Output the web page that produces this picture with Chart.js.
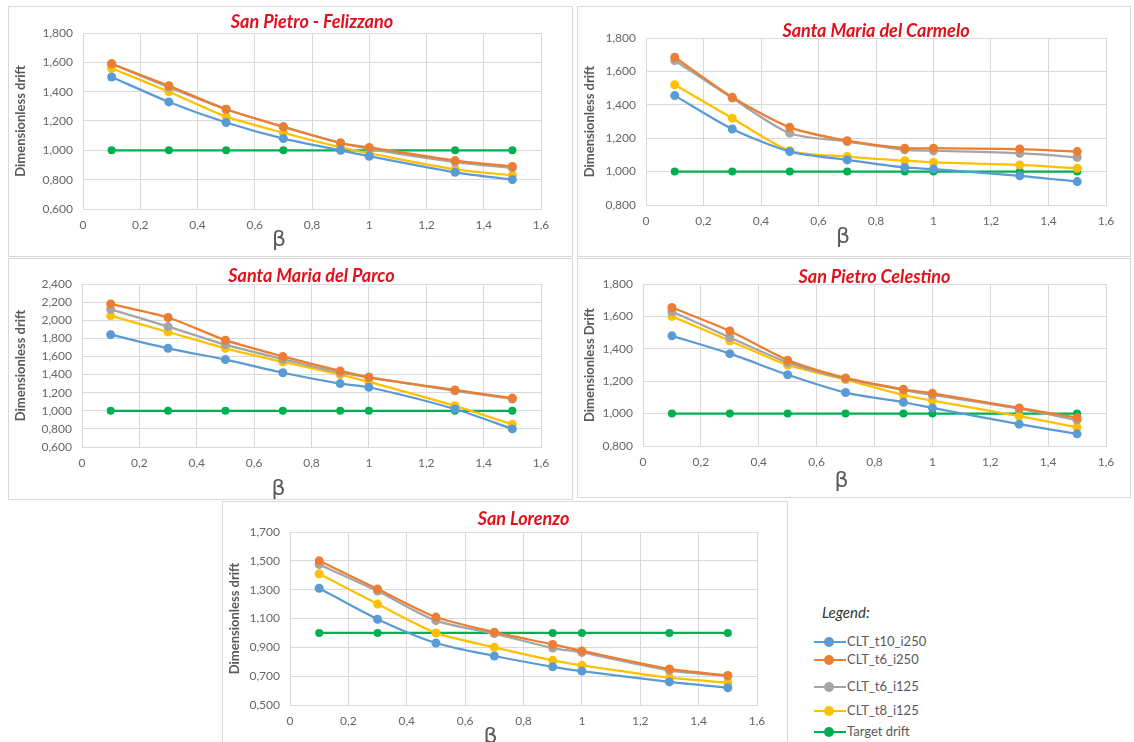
<!DOCTYPE html>
<html>
<head>
<meta charset="utf-8">
<script src="https://cdn.jsdelivr.net/npm/chart.js@4.4.1/dist/chart.umd.min.js"></script>
<style>
  body { margin: 0; background: #fff; width: 1134px; height: 742px; position: relative; overflow: hidden; font-family: Lato, "Open Sans", sans-serif; }
  .panel { position: absolute; border: 1px solid #d9d9d9; box-sizing: border-box; background: #fff; }
  .panel canvas { display: block; }
  #legend { position: absolute; left: 812px; top: 600px; color: #595959; font-size: 13px; }
  #legend .head { position: absolute; left: 10px; top: 3px; font-size: 15px; font-style: italic; font-weight: normal; color: #333; white-space: nowrap; }
  #legend .item { position: absolute; left: 0; height: 14px; white-space: nowrap; }
  #legend .item i { position: absolute; left: 2px; top: 6px; width: 32px; height: 2px; }
  #legend .item b { position: absolute; left: 12px; top: 2px; width: 10px; height: 10px; border-radius: 50%; }
  #legend .item span { position: absolute; left: 35px; top: -2px; }
</style>
</head>
<body>
<div class="panel" id="p1"><canvas id="c1"></canvas></div>
<div class="panel" id="p2"><canvas id="c2"></canvas></div>
<div class="panel" id="p3"><canvas id="c3"></canvas></div>
<div class="panel" id="p4"><canvas id="c4"></canvas></div>
<div class="panel" id="p5"><canvas id="c5"></canvas></div>
<div id="legend"><div class="head">Legend:</div></div>
<script>
// beta values (x axis)
const beta = [0.1, 0.3, 0.5, 0.7, 0.9, 1.0, 1.3, 1.5];
const seriesNames = ['CLT_t10_i250', 'CLT_t6_i250', 'CLT_t6_i125', 'CLT_t8_i125', 'Target drift'];
const target = [1, 1, 1, 1, 1, 1, 1, 1];

// San Pietro - Felizzano
const felizzanoT10i250 = [1.50, 1.33, 1.19, 1.08, 1.00, 0.96, 0.85, 0.80];
const felizzanoT6i250  = [1.59, 1.44, 1.28, 1.16, 1.05, 1.02, 0.93, 0.89];
const felizzanoT6i125  = [1.59, 1.43, 1.28, 1.16, 1.05, 1.01, 0.92, 0.88];
const felizzanoT8i125  = [1.56, 1.40, 1.23, 1.12, 1.02, 0.98, 0.87, 0.83];

// Santa Maria del Carmelo
const carmeloT10i250 = [1.455, 1.255, 1.12, 1.07, 1.025, 1.015, 0.975, 0.94];
const carmeloT6i250  = [1.685, 1.445, 1.265, 1.185, 1.14, 1.14, 1.135, 1.12];
const carmeloT6i125  = [1.665, 1.44, 1.23, 1.18, 1.13, 1.125, 1.11, 1.085];
const carmeloT8i125  = [1.52, 1.32, 1.125, 1.09, 1.065, 1.055, 1.04, 1.02];

// Santa Maria del Parco
const parcoT10i250 = [1.84, 1.69, 1.565, 1.42, 1.30, 1.26, 1.02, 0.80];
const parcoT6i250  = [2.18, 2.03, 1.78, 1.60, 1.44, 1.37, 1.23, 1.14];
const parcoT6i125  = [2.12, 1.93, 1.73, 1.57, 1.42, 1.37, 1.22, 1.13];
const parcoT8i125  = [2.05, 1.87, 1.69, 1.54, 1.40, 1.32, 1.055, 0.85];

// San Pietro Celestino
const celestinoT10i250 = [1.48, 1.37, 1.24, 1.13, 1.07, 1.035, 0.935, 0.875];
const celestinoT6i250  = [1.655, 1.51, 1.33, 1.22, 1.15, 1.125, 1.035, 0.975];
const celestinoT6i125  = [1.63, 1.47, 1.315, 1.215, 1.145, 1.115, 1.03, 0.96];
const celestinoT8i125  = [1.60, 1.45, 1.30, 1.21, 1.115, 1.08, 0.985, 0.915];

// San Lorenzo
const lorenzoT10i250 = [1.31, 1.095, 0.93, 0.84, 0.765, 0.735, 0.66, 0.62];
const lorenzoT6i250  = [1.50, 1.305, 1.11, 1.005, 0.92, 0.875, 0.75, 0.705];
const lorenzoT6i125  = [1.475, 1.29, 1.085, 0.995, 0.895, 0.865, 0.74, 0.70];
const lorenzoT8i125  = [1.41, 1.20, 1.00, 0.90, 0.81, 0.775, 0.69, 0.655];

const colors = ['#5B9BD5', '#ED7D31', '#A5A5A5', '#FFC000', '#00B050'];

// layout in page pixels: box = panel border, plot = chart area, titleY / betaY = text centres
const panels = [
  { id: 'p1', title: 'San Pietro - Felizzano', yTitle: 'Dimensionless drift', yMin: 0.6, yMax: 1.8,
    series: [felizzanoT10i250, felizzanoT6i250, felizzanoT6i125, felizzanoT8i125, target],
    box: [8, 6, 573, 257], plot: [83, 33, 541, 209], titleY: 22, betaY: 240 },
  { id: 'p2', title: 'Santa Maria del Carmelo', yTitle: 'Dimensionless drift', yMin: 0.8, yMax: 1.8,
    series: [carmeloT10i250, carmeloT6i250, carmeloT6i125, carmeloT8i125, target],
    box: [577, 6, 1131, 257], plot: [646, 38, 1106, 205], titleY: 31, betaY: 237 },
  { id: 'p3', title: 'Santa Maria del Parco', yTitle: 'Dimensionless drift', yMin: 0.6, yMax: 2.4,
    series: [parcoT10i250, parcoT6i250, parcoT6i125, parcoT8i125, target],
    box: [8, 258, 573, 500], plot: [82, 284, 541, 447], titleY: 276, betaY: 489 },
  { id: 'p4', title: 'San Pietro Celestino', yTitle: 'Dimensionless Drift', yMin: 0.8, yMax: 1.8,
    series: [celestinoT10i250, celestinoT6i250, celestinoT6i125, celestinoT8i125, target],
    box: [577, 258, 1131, 498], plot: [643, 284, 1106, 446], titleY: 277, betaY: 481 },
  { id: 'p5', title: 'San Lorenzo', yTitle: 'Dimensionless drift', yMin: 0.5, yMax: 1.7,
    series: [lorenzoT10i250, lorenzoT6i250, lorenzoT6i125, lorenzoT8i125, target],
    box: [222, 501, 788, 745], plot: [290, 532, 757, 705], titleY: 519, betaY: 737 }
];

const titleSize = 18;
const betaSize = 22;
const fmtY = v => v.toFixed(3).replace('.', ',');
const fmtX = v => String(Math.round(v * 10) / 10).replace('.', ',');

function buildPanel(p) {
  const el = document.getElementById(p.id);
  const [bl, bt, br, bb] = p.box;
  el.style.left = bl + 'px';
  el.style.top = bt + 'px';
  el.style.width = (br - bl) + 'px';
  el.style.height = (bb - bt) + 'px';
  const cl = bl + 1, ct = bt + 1, cw = br - bl - 2, ch = bb - bt - 2;
  const canvas = el.querySelector('canvas');
  canvas.width = cw;
  canvas.height = ch;

  const [pl, pt, pr, pb] = p.plot;
  const tlh = titleSize * 1.2;
  const tPadTop = p.titleY - ct - tlh / 2;
  const tPadBottom = pt - ct - tPadTop - tlh;
  const blh = betaSize * 1.2;
  const betaPad = (ct + ch) - p.betaY - blh / 2;

  new Chart(canvas, {
    type: 'line',
    data: {
      datasets: p.series.map((vals, i) => ({
        label: seriesNames[i],
        data: beta.map((b, k) => ({ x: b, y: vals[k] })),
        borderColor: colors[i],
        backgroundColor: colors[i],
        borderWidth: 2.25,
        pointRadius: i === 4 ? 4 : 4.5,
        pointBorderWidth: 0,
        tension: i === 4 ? 0 : 0.25
      }))
    },
    options: {
      responsive: false,
      animation: false,
      layout: { padding: { left: 0, top: 0, bottom: 0, right: (cl + cw) - pr } },
      plugins: {
        legend: { display: false },
        tooltip: { enabled: false },
        title: {
          display: true,
          text: p.title,
          fullSize: false,
          color: '#E3101C',
          font: { family: 'Lato', size: titleSize, weight: 'bold', style: 'italic' },
          padding: { top: tPadTop, bottom: tPadBottom }
        }
      },
      scales: {
        x: {
          type: 'linear',
          min: 0, max: 1.6,
          ticks: { stepSize: 0.2, color: '#666', padding: 9, font: { family: 'Lato', size: 12 }, callback: fmtX },
          grid: { color: '#d9d9d9', drawTicks: false },
          border: { color: '#d9d9d9' },
          title: {
            display: true,
            text: 'β\u2003\u2003\u2003',
            color: '#595959',
            font: { family: 'DejaVu Sans', size: betaSize },
            padding: { top: 0, bottom: betaPad }
          },
          afterFit: s => { s.height = (ct + ch) - pb; }
        },
        y: {
          min: p.yMin, max: p.yMax,
          ticks: { stepSize: 0.2, color: '#666', padding: 10, font: { family: 'Lato', size: 12 }, callback: fmtY },
          grid: { color: '#d9d9d9', drawTicks: false },
          border: { display: false },
          title: {
            display: true,
            text: p.yTitle,
            color: '#595959',
            font: { family: 'Lato', size: 13, weight: 'bold' },
            padding: { top: 4, bottom: 0 }
          },
          afterFit: s => { s.width = pl - cl; }
        }
      }
    }
  });
}

panels.forEach(buildPanel);

// legend
const legend = document.getElementById('legend');
const legendY = [42, 60, 87, 111, 132];
seriesNames.forEach((name, i) => {
  const row = document.createElement('div');
  row.className = 'item';
  row.style.top = (legendY[i] - 7) + 'px';
  row.innerHTML = '<i style="background:' + colors[i] + '"></i><b style="background:' + colors[i] + '"></b><span>' + name + '</span>';
  legend.appendChild(row);
});
</script>
</body>
</html>
